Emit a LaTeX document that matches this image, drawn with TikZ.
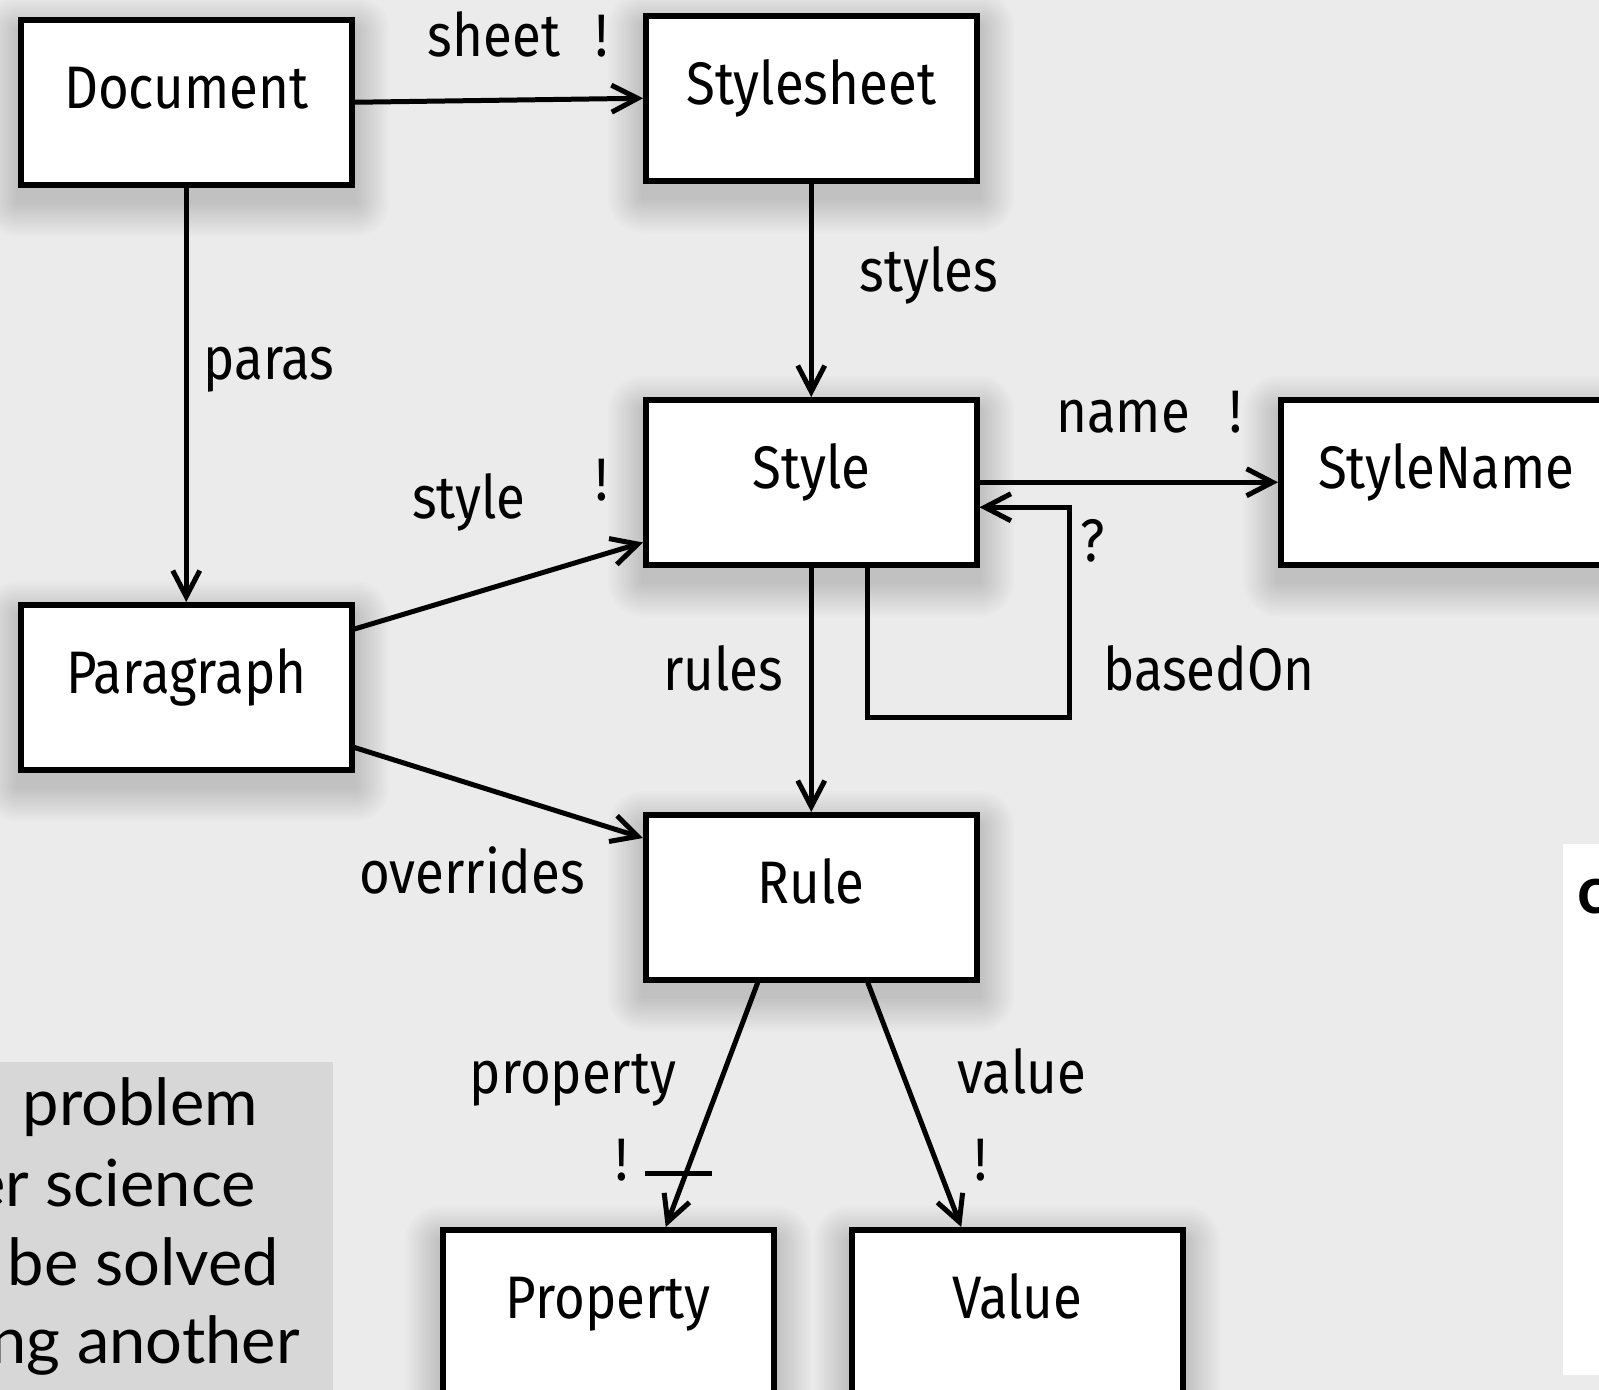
\documentclass[tikz,border=0pt]{standalone}
\usepackage{fontspec}
\setmainfont{Fira Sans}[FakeStretch=0.88]
\newfontfamily\quotefont{Lato}
\usetikzlibrary{arrows.meta,calc}
\pgfdeclarelayer{back}
\pgfdeclarelayer{shade}
\pgfsetlayers{back,shade,main}
\definecolor{bgc}{RGB}{235,235,235}
\definecolor{quotebg}{RGB}{215,215,215}
\tikzset{
  cls/.style={draw=black, line width=5.5pt, fill=white, inner sep=0pt,
    minimum width=331pt, text height=89pt, text depth=76pt, anchor=north west,
    font=\fontsize{60}{60}\selectfont},
  arr/.style={line width=5pt, -{Straight Barb[length=26pt,width=27pt]}},
  lbl/.style={anchor=base, inner sep=0pt, font=\fontsize{60}{60}\selectfont},
  qt/.style={anchor=base east, inner sep=0pt, font=\quotefont\fontsize{65}{65}\selectfont},
  shadestep/.style={fill=black, opacity=0.011}
}
\begin{document}
\begin{tikzpicture}[x=1pt,y=-1pt]
\useasboundingbox (0,0) rectangle (1599,1390);
\begin{pgfonlayer}{back}
\fill[bgc] (0,0) rectangle (1599,1390);
\end{pgfonlayer}
% classes
\node[cls] (doc) at (18,17) {Document};
\node[cls] (sheet) at (643,13) {Stylesheet};
\node[cls] (style) at (643,397) {Style};
\node[cls] (sname) at (1278,397) {StyleName};
\node[cls] (para) at (18,602) {Paragraph};
\node[cls] (rule) at (643,812) {Rule};
\node[cls] (prop) at (440,1227) {Property};
\node[cls] (val) at (849,1227) {Value};
% soft shadows
\begin{pgfonlayer}{shade}
\foreach \n in {doc,sheet,style,sname,para,rule,prop,val}{
  \foreach \i in {1,...,14}{
    \fill[shadestep, rounded corners=2.5*\i pt] ($(\n.north west)+(-2.5*\i,-2.5*\i+14)$) rectangle ($(\n.south east)+(2.5*\i,2.5*\i+14)$);
  }
}
\end{pgfonlayer}
% quote panel bottom-left
\fill[quotebg] (0,1062) rectangle (333,1395);
\node[qt] (q1) at (258,1125) {problem};
\node[qt] (q2) at (256,1206) {er science};
\node[qt] (q3) at (279,1285) {be solved};
\node[qt] (q4) at (300,1363) {ng another};
% white panel right
\fill[white] (1563,844) rectangle (1610,1375);
\node[anchor=base west, inner sep=0pt, font=\quotefont\bfseries\fontsize{66}{66}\selectfont] (cc) at (1577,913) {c};
% connectors
\draw[arr] (doc.east) -- (sheet.west);
\draw[arr] (doc.south) -- (para.north);
\draw[arr] (sheet.south) -- (style.north);
\draw[arr] (style.east) -- (sname.west);
\draw[arr] ([yshift=-27pt]para.north east) -- ([yshift=25pt]style.south west);
\draw[arr] ([yshift=25pt]para.south east) -- ([yshift=-26pt]rule.north west);
\draw[arr] (style.south) -- (rule.north);
\draw[arr] ([xshift=56pt]style.south) -- ++(0,150) -- ++(202,0) |- ([yshift=-25pt]style.east);
\draw[arr] ([xshift=-53.5pt]rule.south) -- coordinate[pos=0.78] (pb) ([xshift=57.5pt]prop.north);
\draw[arr] ([xshift=56.5pt]rule.south) -- ([xshift=-56pt]val.north);
\coordinate (bl) at ($(pb)+(-41,0)$);
\coordinate (br) at ($(pb)+(26,0)$);
\draw[line width=5pt] (bl) -- (br);
% labels
\node[lbl] (lsheet) at (494,56) {sheet};
\node[lbl] (lsheetx) at (602,56) {!};
\node[lbl] (lparas) at (269,379) {paras};
\node[lbl] (lstyles) at (929,291) {styles};
\node[lbl] (lname) at (1123,432) {name};
\node[lbl] (lnamex) at (1236,432) {!};
\node[lbl] (lstyle) at (469,518) {style};
\node[lbl] (lstylex) at (602,500) {!};
\node[lbl] (lq) at (1093,561) {?};
\node[lbl] (lbased) at (1209,690) {basedOn};
\node[lbl] (lrules) at (723,690) {rules};
\node[lbl] (lover) at (472,893) {overrides};
\node[lbl] (lprop) at (573,1093) {property};
\node[lbl] (lpropx) at (622,1180) {!};
\node[lbl] (lval) at (1022,1093) {value};
\node[lbl] (lvalx) at (981,1180) {!};
\end{tikzpicture}
\end{document}
